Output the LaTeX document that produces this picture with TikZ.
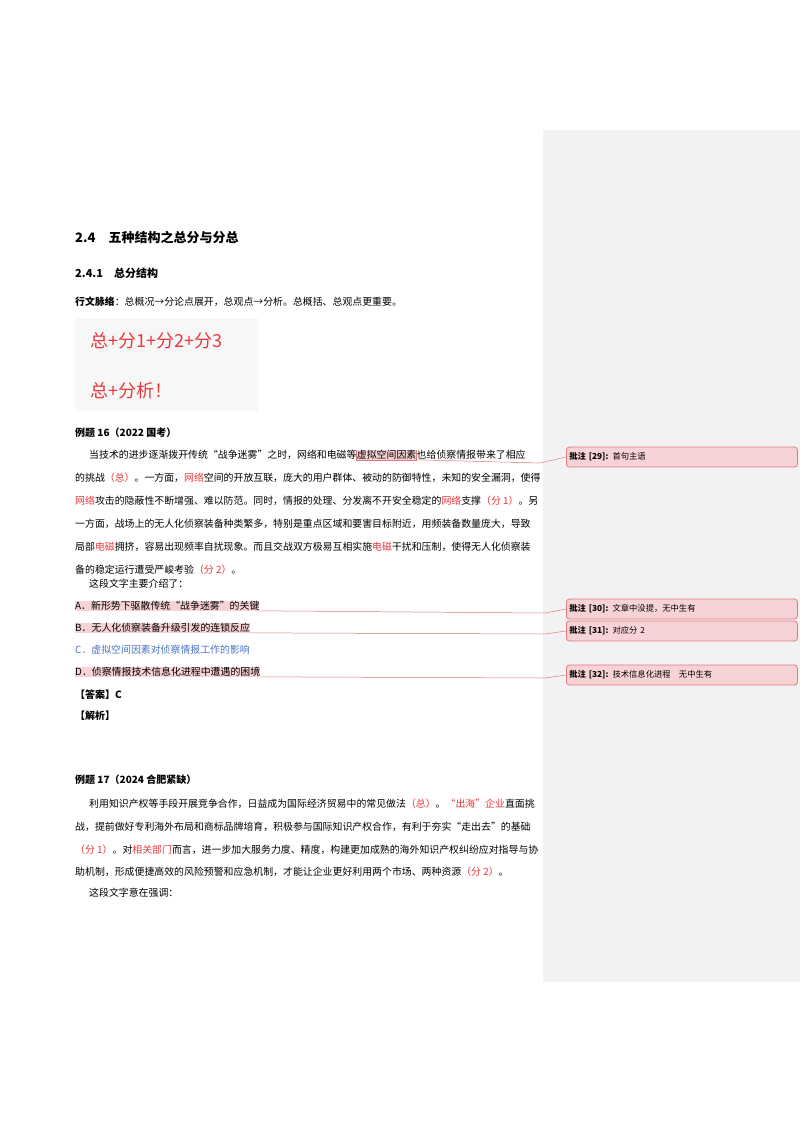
\documentclass[tikz,border=0pt]{standalone}
\usepackage{fontspec}
\setmainfont{Noto Sans CJK SC}
\usepackage{xcolor}
\definecolor{rd}{HTML}{E8383D}
\definecolor{bl}{HTML}{4A74C4}
\definecolor{pk}{HTML}{F8D3D5}
\definecolor{ln}{HTML}{E07A80}
\definecolor{pan}{HTML}{F2F2F2}
\begin{document}
\begin{tikzpicture}[x=1pt,y=-1pt,
 body/.style={anchor=west,inner sep=0pt,font=\fontsize{9.9}{12}\selectfont},
 hl/.style={body,fill=pk},
 cmt/.style={draw=ln,line width=0.8pt,fill=pk,rounded corners=3pt,minimum width=231pt,minimum height=20pt,anchor=west,inner sep=3pt,text width=225pt,font=\fontsize{8.3}{10}\selectfont},
 link/.style={draw=ln,line width=0.5pt}]
\useasboundingbox (0,0) rectangle (800,1132);
\fill[white] (0,0) rectangle (800,1132);
\fill[pan] (543,130) rectangle (800,982);
\node[body,font=\fontsize{13}{15}\bfseries] (t1) at (75,237) {2.4\quad 五种结构之总分与分总};
\node[body,font=\fontsize{11}{13}\bfseries] (t2) at (75,273) {2.4.1\quad 总分结构};
\node[body] (t3) at (75,302) {\textbf{行文脉络}：总概况→分论点展开，总观点→分析。总概括、总观点更重要。};
\fill[pan!60] (75,318) rectangle (258,411);
\node[body,font=\fontsize{18}{20}\selectfont,text=rd] (i1) at (90,341) {总+分1+分2+分3};
\node[body,font=\fontsize{18}{20}\selectfont,text=rd] (i2) at (90,391) {总+分析！};
\node[body,font=\fontsize{10}{12}\bfseries] (e16) at (75,433) {例题 16（2022 国考）};
\node[body] (p1a) at (89,455) {当技术的进步逐渐拨开传统“战争迷雾”之时，网络和电磁等};
\node[hl] (h29) at (p1a.east) {虚拟空间因素};
\node[body] (p1b) at (h29.east) {也给侦察情报带来了相应};
\node[body] (p2) at (75,478) {的挑战\textcolor{rd}{（总）}。一方面，\textcolor{rd}{网络}空间的开放互联，庞大的用户群体、被动的防御特性，未知的安全漏洞，使得};
\node[body] (p3) at (75,501) {\textcolor{rd}{网络}攻击的隐蔽性不断增强、难以防范。同时，情报的处理、分发离不开安全稳定的\textcolor{rd}{网络}支撑\textcolor{rd}{（分 1）}。另};
\node[body] (p4) at (75,524) {一方面，战场上的无人化侦察装备种类繁多，特别是重点区域和要害目标附近，用频装备数量庞大，导致};
\node[body] (p5) at (75,547) {局部\textcolor{rd}{电磁}拥挤，容易出现频率自扰现象。而且交战双方极易互相实施\textcolor{rd}{电磁}干扰和压制，使得无人化侦察装};
\node[body] (p6) at (75,570) {备的稳定运行遭受严峻考验\textcolor{rd}{（分 2）}。};
\node[body] (q) at (89,584) {这段文字主要介绍了：};
\node[hl] (oA) at (75,606) {A．新形势下驱散传统“战争迷雾”的关键};
\node[hl] (oB) at (75,628) {B．无人化侦察装备升级引发的连锁反应};
\node[body,text=bl] (oC) at (75,650) {C．虚拟空间因素对侦察情报工作的影响};
\node[hl] (oD) at (75,672) {D．侦察情报技术信息化进程中遭遇的困境};
\node[body,font=\fontsize{10}{12}\bfseries] (ans) at (75,695) {【答案】C};
\node[body,font=\fontsize{10}{12}\bfseries] (jx) at (75,716) {【解析】};
\node[body,font=\fontsize{10}{12}\bfseries] (e17) at (75,780) {例题 17（2024 合肥紧缺）};
\node[body] (r1) at (89,804) {利用知识产权等手段开展竞争合作，日益成为国际经济贸易中的常见做法\textcolor{rd}{（总）}。\textcolor{rd}{“出海”企业}直面挑};
\node[body] (r2) at (75,827) {战，提前做好专利海外布局和商标品牌培育，积极参与国际知识产权合作，有利于夯实“走出去”的基础};
\node[body] (r3) at (75,850) {\textcolor{rd}{（分 1）}。对\textcolor{rd}{相关部门}而言，进一步加大服务力度、精度，构建更加成熟的海外知识产权纠纷应对指导与协};
\node[body] (r4) at (75,872) {助机制，形成便捷高效的风险预警和应急机制，才能让企业更好利用两个市场、两种资源\textcolor{rd}{（分 2）}。};
\node[body] (q2) at (89,893) {这段文字意在强调：};
\node[cmt] (c29) at (566,457) {\textbf{批注 [29]:} 首句主语};
\node[cmt] (c30) at (566,609) {\textbf{批注 [30]:} 文章中没提，无中生有};
\node[cmt] (c31) at (566,631) {\textbf{批注 [31]:} 对应分 2};
\node[cmt] (c32) at (566,675) {\textbf{批注 [32]:} 技术信息化进程\quad 无中生有};
\draw[link] (h29.north west) -- (h29.south west) -- (h29.south east) -- (h29.north east);
\draw[link] (h29.south east) -- (540,463) -- (c29.west);
\draw[link] (oA.south east) -- (545,613) -- (c30.west);
\draw[link] (oB.south east) -- (545,634) -- (c31.west);
\draw[link] (oD.south east) -- (545,678) -- (c32.west);
\end{tikzpicture}
\end{document}
